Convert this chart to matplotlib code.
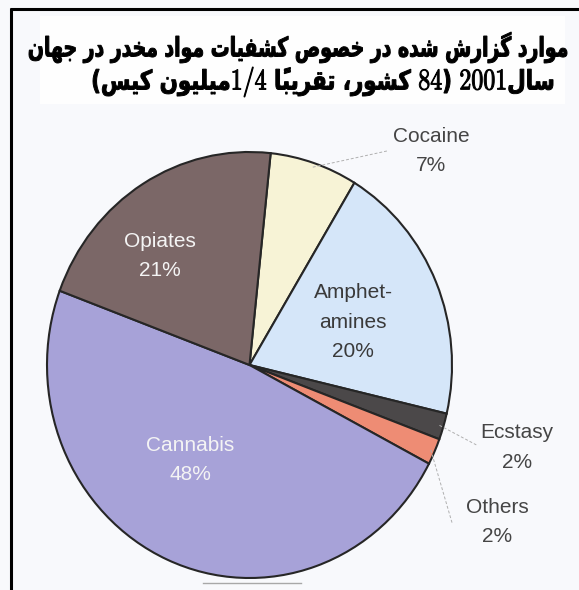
import re
import matplotlib
matplotlib.use("Agg")
import matplotlib.pyplot as plt
import numpy as np
from matplotlib.font_manager import FontProperties
from matplotlib.patches import PathPatch
from matplotlib.path import Path
from matplotlib.textpath import TextPath, text_to_path
from matplotlib.transforms import Affine2D

# ---- data -------------------------------------------------------------
categories = ["Cocaine", "Amphet-\namines", "Ecstasy", "Others", "Cannabis", "Opiates"]
shares = [7, 20, 2, 2, 48, 21]
colors = ["#f7f3d6", "#d5e6f9", "#4b4849", "#ee8c74", "#a7a2d8", "#7b6767"]
title_lines = [
    "موارد گزارش شده در خصوص کشفیات مواد مخدر در جهان",
    "سال2001 (84 کشور، تقریباً 1/4میلیون کیس)",
]

# ---- layout / style ---------------------------------------------------
W, H = 579, 590
title_boxes = [(29, 567, 32, 63), (93, 553, 67, 97)]   # ink box: left, right, top, bottom (px)
label_pos = {            # label centres in pie units
    "Cocaine": (0.896, 1.005),
    "Amphet-\namines": (0.511, 0.200),
    "Ecstasy": (1.321, -0.387),
    "Others": (1.222, -0.737),
    "Cannabis": (-0.294, -0.446),
    "Opiates": (-0.442, 0.512),
}
label_color = {"Cannabis": "#f4f4f4", "Opiates": "#f4f4f4", "Amphet-\namines": "#3a3a3a"}
leader_end = {"Cocaine": (0.68, 1.005), "Ecstasy": (1.12, -0.375), "Others": (1.0, -0.74)}

plt.rcParams["mathtext.fontset"] = "cm"

# ---- minimal Arabic-script shaping for right-to-left display ----------
_FORMS = {  # isolated, final, initial, medial
    "ا": ("\uFE8D", "\uFE8E", None, None),
    "د": ("\uFEA9", "\uFEAA", None, None),
    "ر": ("\uFEAD", "\uFEAE", None, None),
    "ز": ("\uFEAF", "\uFEB0", None, None),
    "و": ("\uFEED", "\uFEEE", None, None),
    "ب": ("\uFE8F", "\uFE90", "\uFE91", "\uFE92"),
    "ت": ("\uFE95", "\uFE96", "\uFE97", "\uFE98"),
    "ج": ("\uFE9D", "\uFE9E", "\uFE9F", "\uFEA0"),
    "خ": ("\uFEA5", "\uFEA6", "\uFEA7", "\uFEA8"),
    "س": ("\uFEB1", "\uFEB2", "\uFEB3", "\uFEB4"),
    "ش": ("\uFEB5", "\uFEB6", "\uFEB7", "\uFEB8"),
    "ص": ("\uFEB9", "\uFEBA", "\uFEBB", "\uFEBC"),
    "ف": ("\uFED1", "\uFED2", "\uFED3", "\uFED4"),
    "ق": ("\uFED5", "\uFED6", "\uFED7", "\uFED8"),
    "ل": ("\uFEDD", "\uFEDE", "\uFEDF", "\uFEE0"),
    "م": ("\uFEE1", "\uFEE2", "\uFEE3", "\uFEE4"),
    "ن": ("\uFEE5", "\uFEE6", "\uFEE7", "\uFEE8"),
    "ه": ("\uFEE9", "\uFEEA", "\uFEEB", "\uFEEC"),
    "ک": ("\uFB8E", "\uFB8F", "\uFB90", "\uFB91"),
    "گ": ("\uFB92", "\uFB93", "\uFB94", "\uFB95"),
    "ی": ("\uFBFC", "\uFBFD", "\uFBFE", "\uFBFF"),
}
_MARKS = {"\u064B"}
_MIRROR = {"(": ")", ")": "("}


def shape_rtl(s):
    chars = list(s)

    def neighbour(i, step):
        j = i + step
        while 0 <= j < len(chars) and chars[j] in _MARKS:
            j += step
        return chars[j] if 0 <= j < len(chars) else None

    out = []
    for i, c in enumerate(chars):
        if c not in _FORMS:
            out.append(c)
            continue
        iso, fin, ini, med = _FORMS[c]
        p, n = neighbour(i, -1), neighbour(i, 1)
        jp = p in _FORMS and _FORMS[p][2] is not None
        jn = ini is not None and n in _FORMS
        out.append(med if (jp and jn) else fin if jp else ini if jn else iso)
    clusters = []
    for c in out:
        if c in _MARKS and clusters:
            clusters[-1] += c
        else:
            clusters.append(c)
    return "".join(_MIRROR.get(c, c) for c in reversed(clusters))


AR_PROP = FontProperties(family="DejaVu Sans", weight="bold", size=100)
NUM_PROP = FontProperties(family="DejaVu Serif", size=112)
SPACE = 0.348 * 100


def title_path(line):
    """Outline of an RTL line (with left-to-right number runs), in visual order."""
    parts = [p for p in re.split(r"([0-9]+(?:/[0-9]+)*)", line) if p]
    x = 0.0
    paths = []
    for part in reversed(parts):
        if re.fullmatch(r"[0-9/]+", part):
            s = "$" + part + "$"
            paths.append(TextPath((x, 0), s, prop=NUM_PROP))
            x += text_to_path.get_text_width_height_descent(s, NUM_PROP, ismath=True)[0]
            continue
        vis = shape_rtl(part)
        x += SPACE * (len(vis) - len(vis.lstrip(" ")))
        core = vis.strip(" ")
        paths.append(TextPath((x, 0), core, prop=AR_PROP))
        x += text_to_path.get_text_width_height_descent(core, AR_PROP, ismath=False)[0]
        x += SPACE * (len(vis) - len(vis.rstrip(" ")))
    return Path.make_compound_path(*paths)


# ---- figure -----------------------------------------------------------
fig = plt.figure(figsize=(W / 100, H / 100), dpi=100, facecolor="#f8f9fc")

bg = fig.add_axes([0, 0, 1, 1])
bg.set_xlim(0, W)
bg.set_ylim(H, 0)
bg.axis("off")
bg.add_patch(plt.Rectangle((40, 16), 525, 88, facecolor="#fefefe", edgecolor="none"))
bg.plot([10.7, 10.7], [7.5, H], color="black", lw=2.2, solid_capstyle="butt")
bg.plot([9.6, W], [8.7, 8.7], color="black", lw=2.2, solid_capstyle="butt")
bg.plot([203, 301], [583, 583], color="#a8a8a8", lw=1.0)

# title rows: glyph outlines fitted into their ink boxes
for line, (x_l, x_r, y_t, y_b) in zip(title_lines, title_boxes):
    path = title_path(line)
    ext = path.get_extents()
    tr = (Affine2D().translate(-ext.x0, -ext.y0)
          .scale((x_r - x_l) / ext.width, -(y_b - y_t) / ext.height)
          .translate(x_l, y_b))
    bg.add_patch(PathPatch(tr.transform_path(path), facecolor="black",
                           edgecolor="black", lw=0.7))

# pie drawn as an ellipse: axes spans the pie's bounding box
cx, cy, ax_w, ax_h = 249.5, 365, 202.5, 213
ax = fig.add_axes([(cx - ax_w) / W, (H - cy - ax_h) / H, 2 * ax_w / W, 2 * ax_h / H])
wedges, _ = ax.pie(shares, colors=colors, startangle=84, counterclock=False,
                   wedgeprops=dict(edgecolor="#262626", linewidth=1.5))
ax.set_aspect("auto")
ax.set_xlim(-1, 1)
ax.set_ylim(-1, 1)
ax.axis("off")

for w, cat, val in zip(wedges, categories, shares):
    x, y = label_pos[cat]
    ax.text(x, y, f"{cat}\n{val}%", ha="center", va="center", fontsize=15,
            family="Liberation Sans", color=label_color.get(cat, "#454545"),
            linespacing=1.7)
    if cat in leader_end:
        mid = np.deg2rad((w.theta1 + w.theta2) / 2)
        x0, y0 = 0.98 * np.cos(mid), 0.98 * np.sin(mid)
        x1, y1 = leader_end[cat]
        ax.plot([x0, x1], [y0, y1], color="#b0b0b0", lw=0.7, ls=(0, (3, 2)),
                clip_on=False)

fig.savefig("out.png", dpi=100, facecolor=fig.get_facecolor())
